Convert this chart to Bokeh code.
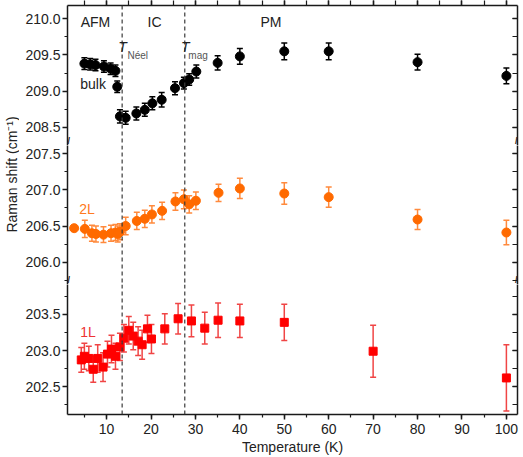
import math
from bokeh.plotting import figure
from bokeh.models import (Range1d, LinearAxis, SingleIntervalTicker, Span, Label,
                          Whisker, TeeHead, ColumnDataSource, PrintfTickFormatter,
                          CustomJSTickFormatter)
from bokeh.layouts import row, column
from bokeh.embed import file_html
from bokeh.resources import INLINE

FONT = "Liberation Sans"
AXIS_COLOR = "#1a1a1a"
TEXT_COLOR = "#222222"

# ---------------- data ----------------
bulk_T = [5.0, 6.3, 7.5, 9.4, 10.9, 12.0, 12.4, 13.0, 14.3, 16.7, 18.6, 20.3, 22.4,
          25.4, 27.4, 28.6, 30.2, 35.0, 40.0, 50.0, 60.0, 80.0, 100.0]
bulk_shift = [209.38, 209.37, 209.36, 209.34, 209.31, 209.28, 209.06, 208.65, 208.63,
              208.69, 208.74, 208.83, 208.88, 209.04, 209.11, 209.16, 209.27, 209.39,
              209.48, 209.55, 209.55, 209.40, 209.21]
bulk_err = [0.08, 0.08, 0.08, 0.08, 0.08, 0.08, 0.08, 0.09, 0.09, 0.09, 0.09, 0.09, 0.10,
            0.09, 0.08, 0.08, 0.09, 0.10, 0.11, 0.115, 0.115, 0.11, 0.11]

l2_T = [2.7, 5.1, 6.7, 7.6, 9.3, 11.0, 12.0, 12.5, 13.0, 14.3, 16.8, 18.6, 20.2, 22.5,
        25.5, 27.4, 28.6, 30.1, 35.2, 40.0, 50.0, 60.0, 80.0, 100.0]
l2_shift = [206.47, 206.46, 206.40, 206.39, 206.38, 206.40, 206.41, 206.39, 206.42,
            206.50, 206.57, 206.60, 206.66, 206.71, 206.84, 206.87, 206.80, 206.85,
            206.96, 207.02, 206.95, 206.90, 206.59, 206.41]
l2_err = [0.0, 0.12, 0.11, 0.11, 0.11, 0.11, 0.11, 0.11, 0.11, 0.12, 0.12, 0.12, 0.12,
          0.12, 0.12, 0.13, 0.12, 0.12, 0.12, 0.14, 0.15, 0.14, 0.14, 0.17]

l1_T = [4.3, 5.0, 6.0, 7.0, 8.0, 9.2, 10.2, 11.1, 12.0, 13.0, 13.9, 15.0, 16.0, 17.1,
        18.0, 19.2, 20.1, 23.1, 26.1, 29.1, 32.1, 35.1, 40.0, 50.0, 70.0, 100.0]
l1_shift = [202.87, 202.92, 202.89, 202.74, 202.89, 202.77, 202.95, 203.02, 202.92,
            203.05, 203.17, 203.28, 203.20, 203.13, 203.08, 203.30, 203.16, 203.30,
            203.44, 203.41, 203.31, 203.42, 203.41, 203.39, 202.99, 202.62]
l1_err = [0.17, 0.18, 0.17, 0.18, 0.19, 0.20, 0.18, 0.19, 0.18, 0.19, 0.19, 0.19, 0.19,
          0.20, 0.20, 0.19, 0.20, 0.21, 0.21, 0.22, 0.22, 0.24, 0.23, 0.25, 0.36, 0.46]

T_NEEL = 13.5
T_MAG = 27.6

X_START, X_END = 1.2, 102.5
Y_TOP = (208.247, 210.184)
Y_MID = (205.69, 207.615)
Y_BOT = (202.113, 203.915)

PX_PER_UNIT = 72.3
FRAME_W = 450
LAB_W = 19
LEFT_BORDER = 48
TOTAL_H = 454

x_range = Range1d(X_START, X_END)
empty_fmt = CustomJSTickFormatter(code="return ''")


def style_axis(ax):
    ax.axis_line_color = AXIS_COLOR
    ax.axis_line_width = 1.5
    ax.major_tick_line_color = AXIS_COLOR
    ax.major_tick_line_width = 1.5
    ax.minor_tick_line_color = AXIS_COLOR
    ax.minor_tick_line_width = 1.2
    ax.major_label_text_font = FONT
    ax.major_label_text_font_size = "14px"
    ax.major_label_text_color = TEXT_COLOR


def make_panel(yr, top=False, bottom=False):
    fh = int(round((yr[1] - yr[0]) * PX_PER_UNIT))
    p = figure(frame_width=FRAME_W, frame_height=fh, x_range=x_range,
               y_range=Range1d(*yr), x_axis_location=None, y_axis_location=None,
               output_backend="svg", toolbar_location=None,
               min_border_left=LEFT_BORDER, min_border_right=3,
               min_border_top=0, min_border_bottom=0)
    p.outline_line_color = None
    p.grid.visible = False
    p.background_fill_color = "white"
    p.border_fill_color = "white"

    left = LinearAxis(ticker=SingleIntervalTicker(interval=0.5, num_minor_ticks=2),
                      formatter=PrintfTickFormatter(format="%.1f"))
    style_axis(left)
    left.major_tick_out = 5
    left.major_tick_in = 0
    left.minor_tick_out = 3
    left.minor_tick_in = 0
    left.major_label_standoff = 2
    p.add_layout(left, "left")

    right = LinearAxis(ticker=SingleIntervalTicker(interval=0.5, num_minor_ticks=2),
                       formatter=empty_fmt)
    style_axis(right)
    right.major_tick_out = 0
    right.major_tick_in = 5
    right.minor_tick_out = 0
    right.minor_tick_in = 5
    right.major_label_standoff = 0
    p.add_layout(right, "right")

    if top:
        above = LinearAxis(ticker=SingleIntervalTicker(interval=10, num_minor_ticks=2),
                           formatter=empty_fmt)
        style_axis(above)
        above.major_tick_out = 5
        above.major_tick_in = 0
        above.minor_tick_out = 5
        above.minor_tick_in = 0
        above.major_label_standoff = 0
        p.add_layout(above, "above")
    if bottom:
        below = LinearAxis(ticker=SingleIntervalTicker(interval=10, num_minor_ticks=2),
                           axis_label="Temperature (K)")
        style_axis(below)
        below.major_tick_out = 5
        below.major_tick_in = 0
        below.minor_tick_out = 3
        below.minor_tick_in = 0
        below.major_label_standoff = 4
        below.axis_label_standoff = 2
        below.axis_label_text_font = FONT
        below.axis_label_text_font_size = "14px"
        below.axis_label_text_font_style = "normal"
        below.axis_label_text_color = TEXT_COLOR
        p.add_layout(below, "below")

    for loc in (T_NEEL, T_MAG):
        p.add_layout(Span(location=loc, dimension="height", line_color="#3a3a3a",
                          line_width=1.2, line_dash="4 3"))
    return p


def add_series(p, xs, ys, errs, marker, size, color, err_color):
    ex = [x for x, e in zip(xs, errs) if e > 0]
    up = [y + e for y, e in zip(ys, errs) if e > 0]
    lo = [y - e for y, e in zip(ys, errs) if e > 0]
    src = ColumnDataSource(dict(x=ex, upper=up, lower=lo))
    w = Whisker(source=src, base="x", upper="upper", lower="lower",
                line_color=err_color, line_width=1.5,
                upper_head=TeeHead(size=6, line_color=err_color, line_width=1.5),
                lower_head=TeeHead(size=6, line_color=err_color, line_width=1.5))
    w.level = "underlay"
    p.add_layout(w)
    p.scatter(xs, ys, marker=marker, size=size, fill_color=color, line_color=color)


def add_text(p, x, y, text, size="14px", color=TEXT_COLOR, align="center",
             baseline="middle", style="normal"):
    p.add_layout(Label(x=x, y=y, text=text, text_font=FONT, text_font_size=size,
                       text_color=color, text_align=align, text_baseline=baseline,
                       text_font_style=style))


def add_break(p, yv):
    for xv in (X_START, X_END):
        p.add_layout(Label(x=xv, y=yv, text="//", text_font=FONT, text_font_size="9px",
                           text_font_style="bold", text_color=AXIS_COLOR,
                           text_align="center", text_baseline="bottom"))


p_top = make_panel(Y_TOP, top=True)
p_mid = make_panel(Y_MID)
p_bot = make_panel(Y_BOT, bottom=True)

add_series(p_top, bulk_T, bulk_shift, bulk_err, "circle", 9, "#000000", "#000000")
add_series(p_mid, l2_T, l2_shift, l2_err, "circle", 9, "#ff6a00", "#ff8a3d")
add_series(p_bot, l1_T, l1_shift, l1_err, "square", 8, "#ff0000", "#f04545")

add_text(p_top, 7.5, 209.95, "AFM")
add_text(p_top, 20.8, 209.95, "IC")
add_text(p_top, 47.0, 209.95, "PM")
add_text(p_top, 13.6, 209.61, "T", style="italic")
add_text(p_top, 14.7, 209.49, "Néel", size="10px", color="#555555", align="left",
         baseline="alphabetic")
add_text(p_top, 27.7, 209.61, "T", style="italic")
add_text(p_top, 28.4, 209.49, "mag", size="10px", color="#555555", align="left",
         baseline="alphabetic")
add_text(p_top, 6.95, 209.10, "bulk")
add_text(p_mid, 5.6, 206.73, "2L", color="#ff7a20")
add_text(p_bot, 5.8, 203.25, "1L", color="#ee3333")

add_break(p_top, Y_TOP[0])
add_break(p_mid, Y_MID[0])

# y-axis title in a narrow side panel
lab = figure(frame_width=LAB_W, frame_height=TOTAL_H, x_range=Range1d(0, LAB_W),
             y_range=Range1d(0, TOTAL_H), x_axis_location=None, y_axis_location=None,
             output_backend="svg", toolbar_location=None, min_border=0)
lab.outline_line_color = None
lab.grid.visible = False
lab.add_layout(Label(x=11, y=TOTAL_H - 174, text="Raman shift (cm⁻¹)", angle=math.pi / 2,
                     text_font=FONT, text_font_size="14px", text_color=TEXT_COLOR,
                     text_align="center", text_baseline="middle"))

layout = row(lab, column(p_top, p_mid, p_bot, spacing=0), spacing=0)

open("out.html", "w").write(file_html(layout, INLINE))
